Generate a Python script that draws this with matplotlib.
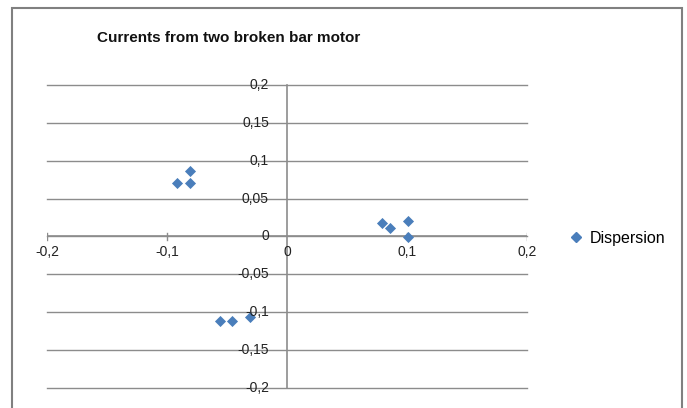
import matplotlib.pyplot as plt
from matplotlib.patches import Rectangle
from matplotlib.lines import Line2D

plt.rcParams['font.family'] = ['Liberation Sans', 'DejaVu Sans']

# dispersion points
x_vals = [-0.092, -0.081, -0.081, 0.079, 0.086, 0.101, 0.101, -0.056, -0.046, -0.031]
y_vals = [0.071, 0.071, 0.086, 0.018, 0.011, 0.020, -0.001, -0.112, -0.112, -0.106]

x_ticks = [-0.2, -0.1, 0, 0.1, 0.2]
x_tick_labels = ['-0,2', '-0,1', '0', '0,1', '0,2']
y_ticks = [-0.2, -0.15, -0.1, -0.05, 0, 0.05, 0.1, 0.15, 0.2]
y_tick_labels = ['-0,2', '-0,15', '-0,1', '-0,05', '0', '0,05', '0,1', '0,15', '0,2']

blue = '#4a7ebb'
grey = '#8c8c8c'

fig = plt.figure(figsize=(6.87, 4.08), dpi=100)
fig.patches.append(Rectangle((12 / 687, -0.05), 670 / 687, 1 - 8 / 408 + 0.05,
                             transform=fig.transFigure, fill=False,
                             edgecolor='#808080', linewidth=1.5))

ax = fig.add_axes([47 / 687, 20 / 408, 480 / 687, 303 / 408])
ax.set_xlim(-0.2, 0.2)
ax.set_ylim(-0.2, 0.2)

# horizontal gridlines, Excel style
for yv in y_ticks:
    ax.axhline(yv, color=grey, linewidth=1, zorder=1, clip_on=False)

ax.scatter(x_vals, y_vals, marker='D', s=32, color=blue, zorder=3, linewidths=0)

for s in ['top', 'right', 'bottom', 'left']:
    ax.spines[s].set_visible(False)
ax.axhline(0, color=grey, linewidth=1.2, zorder=2)
ax.axvline(0, color=grey, linewidth=1.2, zorder=2, clip_on=False)

ax.set_xticks([])
ax.set_yticks([])
for xv, lab in zip(x_ticks, x_tick_labels):
    if xv != 0:
        ax.plot([xv, xv], [-0.004, 0.004], color=grey, linewidth=1, zorder=2)
    ax.text(xv, -0.011, lab, ha='center', va='top', fontsize=10, color='#222222')
for yv, lab in zip(y_ticks, y_tick_labels):
    ax.text(-0.015, yv, lab, ha='right', va='center', fontsize=10, color='#222222')

fig.text(229 / 687, 1 - 38 / 408, 'Currents from two broken bar motor', ha='center',
         va='center', fontsize=11, fontweight='bold', color='#111111')

handle = Line2D([], [], marker='D', linestyle='none', color=blue, markersize=5)
fig.legend([handle], ['Dispersion'], loc='center left',
           bbox_to_anchor=(560 / 687, 1 - 238 / 408), frameon=False,
           fontsize=11.5, handletextpad=0.35, borderpad=0, handlelength=1.0)

fig.savefig('out.png', dpi=100)
